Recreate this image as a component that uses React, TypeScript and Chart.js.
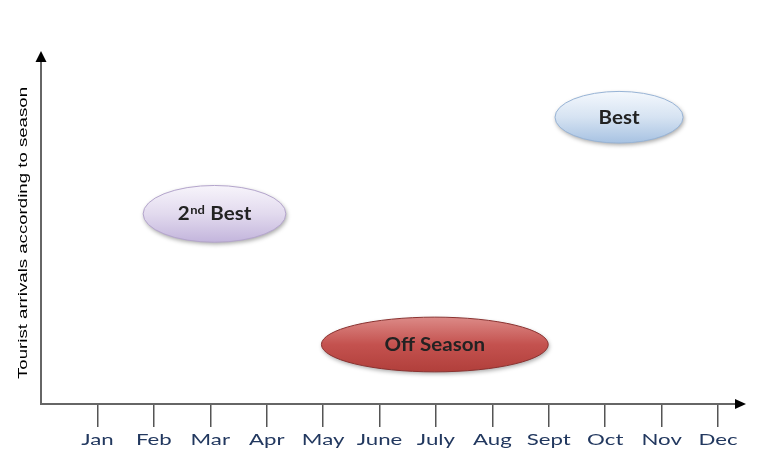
import React, { useEffect, useRef } from 'react';
import { Chart, registerables } from 'chart.js';

Chart.register(...registerables);

// ---- data ----
const months = ['Jan', 'Feb', 'Mar', 'Apr', 'May', 'June', 'July', 'Aug', 'Sept', 'Oct', 'Nov', 'Dec'];
const monthValues = [1, 2, 3, 4, 5, 6, 7, 8, 9, 10, 11, 12];
const seasonNames = ['2nd Best', 'Off Season', 'Best'];
const seasonFrom = [1.81, 4.97, 9.11]; // month position where ellipse starts
const seasonTo = [4.34, 8.99, 11.38]; // month position where ellipse ends
const seasonLow = [47.3, 9.4, 76.3]; // arrival level (bottom of ellipse)
const seasonHigh = [63.9, 25.4, 91.4]; // arrival level (top of ellipse)
const yAxisTitle = 'Tourist arrivals according to season';

// ---- styles ----
const seasonStyles = [
  { top: '#f7f4fb', mid: '#e2daee', bottom: '#c3b5dc', border: '#b4a5cc' },
  { top: '#dc8a87', mid: '#c4524f', bottom: '#b13f3b', border: '#8a3230' },
  { top: '#f4f8fd', mid: '#d6e3f2', bottom: '#a7c2e2', border: '#98b4d6' },
];
const FONT = 'Lato, "Open Sans", sans-serif';
const LABEL_STRETCH = 1.39;
const TITLE_STRETCH = 1.38;
const NAME_STRETCH = 1.08;

const ellipsePlugin = {
  id: 'seasonEllipses',
  afterDatasetsDraw(chart: any) {
    const { ctx, scales } = chart;
    const xs = scales.x;
    const ys = scales.y;
    seasonNames.forEach((name, i) => {
      const x1 = xs.getPixelForValue(seasonFrom[i]);
      const x2 = xs.getPixelForValue(seasonTo[i]);
      const y1 = ys.getPixelForValue(seasonHigh[i]);
      const y2 = ys.getPixelForValue(seasonLow[i]);
      const cx = (x1 + x2) / 2;
      const cy = (y1 + y2) / 2;
      const rx = Math.abs(x2 - x1) / 2;
      const ry = Math.abs(y2 - y1) / 2;
      const st = seasonStyles[i];
      ctx.save();
      const g = ctx.createLinearGradient(0, y1, 0, y2);
      g.addColorStop(0, st.top);
      g.addColorStop(0.5, st.mid);
      g.addColorStop(1, st.bottom);
      ctx.shadowColor = 'rgba(0,0,0,0.35)';
      ctx.shadowBlur = 4;
      ctx.shadowOffsetX = 1;
      ctx.shadowOffsetY = 2;
      ctx.beginPath();
      ctx.ellipse(cx, cy, rx, ry, 0, 0, Math.PI * 2);
      ctx.fillStyle = g;
      ctx.fill();
      ctx.shadowColor = 'transparent';
      ctx.lineWidth = 1;
      ctx.strokeStyle = st.border;
      ctx.stroke();

      ctx.fillStyle = '#222222';
      ctx.textBaseline = 'alphabetic';
      ctx.textAlign = 'left';
      const big = 'bold 19px ' + FONT;
      const small = 'bold 12px ' + FONT;
      ctx.translate(cx, cy + 6.5);
      ctx.scale(NAME_STRETCH, 1);
      if (name.startsWith('2nd')) {
        ctx.font = big;
        const w2 = ctx.measureText('2').width;
        const wb = ctx.measureText(' Best').width;
        ctx.font = small;
        const wn = ctx.measureText('nd').width;
        let x = -(w2 + wn + 1 + wb) / 2;
        ctx.font = big;
        ctx.fillText('2', x, 0);
        x += w2;
        ctx.font = small;
        ctx.fillText('nd', x + 0.5, -6.5);
        x += wn + 1;
        ctx.font = big;
        ctx.fillText(' Best', x, 0);
      } else {
        ctx.font = big;
        const w = ctx.measureText(name).width;
        ctx.fillText(name, -w / 2, 0);
      }
      ctx.restore();
    });
  },
};

const axesPlugin = {
  id: 'arrowAxes',
  afterDraw(chart: any) {
    const { ctx, chartArea, scales } = chart;
    const { left, right, top, bottom } = chartArea;
    ctx.save();
    ctx.strokeStyle = '#666666';
    ctx.lineWidth = 2;
    ctx.beginPath();
    ctx.moveTo(left, top);
    ctx.lineTo(left, bottom);
    ctx.lineTo(right, bottom);
    ctx.stroke();
    ctx.fillStyle = '#000000';
    ctx.beginPath();
    ctx.moveTo(left, top - 11);
    ctx.lineTo(left - 5.5, top);
    ctx.lineTo(left + 5.5, top);
    ctx.closePath();
    ctx.fill();
    ctx.beginPath();
    ctx.moveTo(right + 11, bottom);
    ctx.lineTo(right, bottom - 5);
    ctx.lineTo(right, bottom + 5);
    ctx.closePath();
    ctx.fill();

    // month labels (positions from the x scale)
    const xs = scales.x;
    ctx.fillStyle = '#22385f';
    ctx.font = '16px ' + FONT;
    ctx.textAlign = 'center';
    ctx.textBaseline = 'alphabetic';
    monthValues.forEach((v, i) => {
      const px = xs.getPixelForValue(v);
      ctx.save();
      ctx.translate(px, bottom + 41);
      ctx.scale(LABEL_STRETCH, 1);
      ctx.fillText(months[i], 0, 0);
      ctx.restore();
    });

    // y-axis title
    ctx.save();
    ctx.fillStyle = '#000000';
    ctx.font = '13.5px "Liberation Sans", Arial, sans-serif';
    ctx.textAlign = 'center';
    ctx.translate(left - 14.3, (top + bottom) / 2);
    ctx.rotate(-Math.PI / 2);
    ctx.scale(TITLE_STRETCH, 1);
    ctx.fillText(yAxisTitle, 0, 0);
    ctx.restore();
    ctx.restore();
  },
};

export default function App() {
  const ref = useRef<HTMLCanvasElement>(null);
  useEffect(() => {
    if (!ref.current) return;
    const chart = new Chart(ref.current, {
      type: 'scatter',
      data: {
        datasets: [
          {
            label: 'Seasons',
            data: seasonNames.map((_, i) => ({
              x: (seasonFrom[i] + seasonTo[i]) / 2,
              y: (seasonLow[i] + seasonHigh[i]) / 2,
            })),
            pointRadius: 0,
            pointHoverRadius: 0,
          },
        ],
      },
      options: {
        responsive: false,
        animation: false,
        events: [],
        layout: { padding: { top: 62, right: 33, bottom: 0, left: 0 } },
        plugins: { legend: { display: false }, tooltip: { enabled: false } },
        scales: {
          x: {
            type: 'linear',
            min: 0,
            max: 12.3,
            border: { display: false },
            grid: {
              drawOnChartArea: false,
              drawTicks: true,
              tickLength: 23,
              color: '#555555',
              lineWidth: 1.5,
            },
            afterBuildTicks: (scale: any) => {
              scale.ticks = monthValues.map((v) => ({ value: v }));
            },
            afterFit: (scale: any) => {
              scale.height = 71;
            },
            ticks: {
              display: false,
              autoSkip: false,
              maxRotation: 0,
            },
          },
          y: {
            type: 'linear',
            min: 0,
            max: 100,
            border: { display: false },
            grid: { display: false },
            ticks: { display: false },
            afterFit: (scale: any) => {
              scale.width = 41;
            },
          },
        },
      },
      plugins: [ellipsePlugin, axesPlugin],
    });
    return () => chart.destroy();
  }, []);
  return (
    <div style={{ position: 'fixed', left: 0, top: 0, width: 768, height: 475, background: '#ffffff' }}>
      <canvas ref={ref} width={768} height={475} style={{ display: 'block' }} />
    </div>
  );
}
